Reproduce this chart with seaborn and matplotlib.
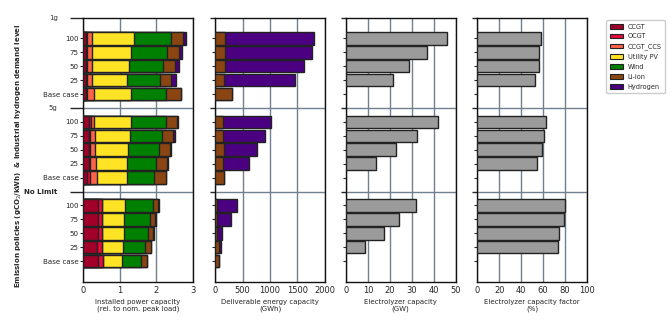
import numpy as np
import pandas as pd
import matplotlib
matplotlib.use("Agg")
import matplotlib.pyplot as plt
import seaborn as sns
from matplotlib.patches import Patch

# ---------------- data ----------------
groups = ["1g", "5g", "No Limit"]
rows = ["100", "75", "50", "25", "Base case"]

# Installed power capacity (rel. to nom. peak load), per group: 100, 75, 50, 25, Base case
ccgt = [0.08, 0.08, 0.08, 0.08, 0.08,
        0.16, 0.145, 0.145, 0.145, 0.10,
        0.41, 0.41, 0.41, 0.38, 0.41]
ocgt = [0.03, 0.03, 0.03, 0.03, 0.03,
        0.05, 0.045, 0.045, 0.045, 0.07,
        0.11, 0.11, 0.11, 0.14, 0.135]
ccgt_ccs = [0.135, 0.135, 0.135, 0.135, 0.19,
            0.09, 0.135, 0.135, 0.165, 0.21,
            0.0, 0.0, 0.0, 0.0, 0.0]
utility_pv = [1.145, 1.065, 1.01, 0.955, 1.01,
              1.01, 0.955, 0.90, 0.845, 0.82,
              0.625, 0.60, 0.60, 0.57, 0.52]
wind = [1.02, 0.98, 0.925, 0.90, 0.95,
        0.95, 0.875, 0.843, 0.79, 0.74,
        0.765, 0.71, 0.65, 0.60, 0.515]
li_ion = [0.31, 0.33, 0.33, 0.30, 0.42,
          0.30, 0.30, 0.30, 0.30, 0.32,
          0.13, 0.125, 0.15, 0.165, 0.175]
hydrogen = [0.09, 0.08, 0.11, 0.14, 0.0,
            0.04, 0.045, 0.04, 0.04, 0.0,
            0.04, 0.035, 0.02, 0.01, 0.0]

# Deliverable energy capacity (GWh)
energy_li_ion = [183, 183, 183, 165, 300,
                 147, 147, 165, 147, 165,
                 37, 37, 37, 73, 73]
energy_hydrogen = [1620, 1585, 1438, 1291, 0,
                   862, 758, 593, 465, 0,
                   354, 244, 91, 25, 0]

# Electrolyzer capacity (GW) and capacity factor (%); base case has none
electrolyzer_gw = [46.2, 37.1, 28.9, 21.6, np.nan,
                   42.1, 32.5, 22.9, 13.8, np.nan,
                   32.1, 24.3, 17.5, 8.8, np.nan]
electrolyzer_cf = [57.8, 56.0, 56.0, 52.3, np.nan,
                   62.4, 60.6, 58.7, 54.1, np.nan,
                   79.8, 78.9, 74.3, 73.4, np.nan]

techs = ["CCGT", "OCGT", "CCGT_CCS", "Utility PV", "Wind", "Li-ion", "Hydrogen"]
tech_colors = {"CCGT": "#A0002A", "OCGT": "#E5093C", "CCGT_CCS": "#FF6347",
               "Utility PV": "#FFE425", "Wind": "#008000", "Li-ion": "#8B4513",
               "Hydrogen": "#4B0082"}
grey = "#9B9B9B"
grid_c = "#708090"
edge_c = "#222222"

# ---------------- layout helpers ----------------
ypos = [g * 6 + r + 1 for g in range(len(groups)) for r in range(len(rows))]
yticklabels = rows * len(groups)
group_pos = [-0.5, 6, 12]

sns.set_style("ticks")
plt.rcParams["font.family"] = ["DejaVu Sans"]

fig = plt.figure(figsize=(6.72, 3.24), dpi=100)
lefts = [83.3 / 672, 215.3 / 672, 346 / 672, 477.3 / 672]
bottom = 1 - 282 / 324
height = (282 - 17.5) / 324
width = 109.5 / 672
axes = [fig.add_axes([l, bottom, width, height]) for l in lefts]


def hbar(ax, vals, color):
    df = pd.DataFrame({"v": vals, "y": ypos}).dropna()
    sns.barplot(data=df, x="v", y="y", orient="h", native_scale=True,
                color=color, saturation=1, edgecolor=edge_c, linewidth=1.0,
                width=0.9, errorbar=None, ax=ax, zorder=3)


# Panel 1: stacked installed capacity (overlay cumulative totals, largest first)
stack = np.array([ccgt, ocgt, ccgt_ccs, utility_pv, wind, li_ion, hydrogen])
cum = np.cumsum(stack, axis=0)
for i in range(len(techs) - 1, -1, -1):
    hbar(axes[0], cum[i], tech_colors[techs[i]])

# Panel 2: deliverable energy (Li-ion + Hydrogen)
e_total = np.array(energy_li_ion) + np.array(energy_hydrogen)
hbar(axes[1], e_total, tech_colors["Hydrogen"])
hbar(axes[1], energy_li_ion, tech_colors["Li-ion"])

# Panels 3 & 4
hbar(axes[2], electrolyzer_gw, grey)
hbar(axes[3], electrolyzer_cf, grey)

xlims = [(0, 3), (0, 2000), (0, 50), (0, 100)]
xticks = [[0, 1, 2, 3], [0, 500, 1000, 1500, 2000], [0, 10, 20, 30, 40, 50],
          [0, 20, 40, 60, 80, 100]]
xlabels = ["Installed power capacity\n(rel. to nom. peak load)",
           "Deliverable energy capacity\n(GWh)",
           "Electrolyzer capacity\n(GW)",
           "Electrolyzer capacity factor\n(%)"]

for k, ax in enumerate(axes):
    ax.set_xlim(*xlims[k])
    ax.set_ylim(18.5, -0.5)
    ax.set_xticks(xticks[k])
    ax.set_xticklabels([str(t) for t in xticks[k]])
    ax.set_axisbelow(True)
    ax.grid(axis="x", color=grid_c, lw=1.0, zorder=0)
    for yy in [6, 12]:
        ax.axhline(yy, color=grid_c, lw=1.0, zorder=0.5)
    ax.set_xlabel(xlabels[k], fontsize=5.0, labelpad=3, linespacing=1.1)
    ax.set_ylabel("")
    ax.tick_params(axis="x", length=0, pad=3, labelsize=6)
    ax.set_yticks(ypos)
    ax.set_yticks(group_pos, minor=True)
    if k == 0:
        ax.set_yticklabels(yticklabels)
        ax.set_yticklabels(groups, minor=True)
        ax.tick_params(axis="y", which="major", length=2.5, width=0.8, pad=1,
                       labelsize=5.1)
        ax.tick_params(axis="y", which="minor", length=9.5, width=1.0, pad=9,
                       labelsize=5.0)
        mins = ax.get_yticklabels(minor=True)
        mins[2].set_fontweight("bold")
        mins[0].set_color("#333333")
        mins[1].set_color("#333333")
    else:
        ax.set_yticklabels([])
        ax.set_yticklabels([], minor=True)
        ax.tick_params(axis="y", which="major", length=2.5, width=0.8, pad=1)
        ax.tick_params(axis="y", which="minor", length=3.5, width=1.0)
    for sp in ax.spines.values():
        sp.set_visible(True)
        sp.set_color("#111111")
        sp.set_linewidth(1.0)

fig.text(19 / 672, 1 - 156 / 324,
         "Emission policies (gCO$_2$/kWh)  & Industrial hydrogen demand level",
         rotation=90, fontweight="bold", fontsize=5.0, ha="center", va="center")

handles = [Patch(facecolor=tech_colors[t], edgecolor=edge_c, linewidth=0.8)
           for t in techs]
fig.legend(handles, techs, loc="upper left",
           bbox_to_anchor=(603 / 672, 1 - 17 / 324), fontsize=4.7,
           handlelength=2.1, handleheight=0.7, borderpad=0.5,
           labelspacing=0.6, handletextpad=0.7, frameon=True,
           edgecolor="#cccccc", framealpha=1)

fig.savefig("out.png", dpi=100)
